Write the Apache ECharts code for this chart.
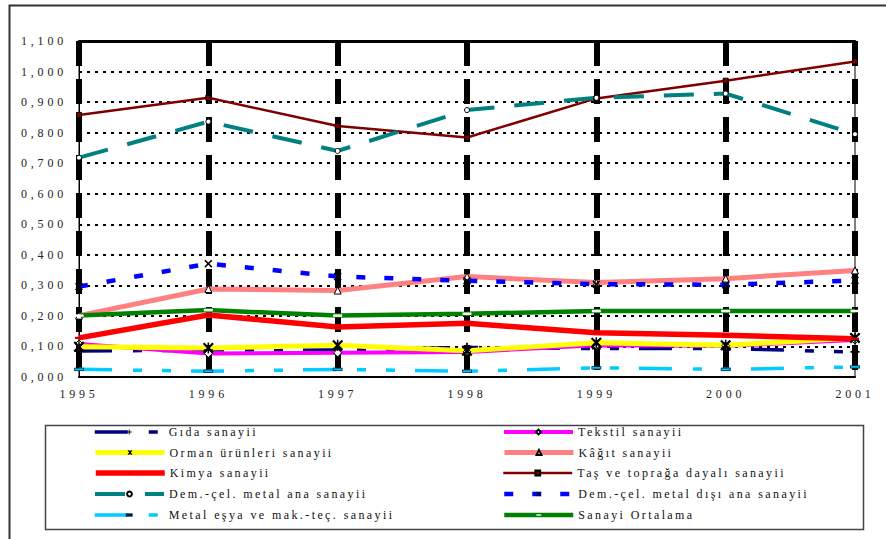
<!DOCTYPE html>
<html>
<head>
<meta charset="utf-8">
<script src="https://cdn.jsdelivr.net/npm/echarts@6/dist/echarts.min.js"></script>
<style>
html,body{margin:0;padding:0;background:#fff;}
#main{width:886px;height:539px;}
</style>
</head>
<body>
<div id="main"></div>
<script>
var years = ['1995','1996','1997','1998','1999','2000','2001'];
var yTicks = [0, 0.1, 0.2, 0.3, 0.4, 0.5, 0.6, 0.7, 0.8, 0.9, 1.0, 1.1];

var gida      = [0.085, 0.088, 0.088, 0.097, 0.093, 0.093, 0.082];
var tekstil   = [0.108, 0.077, 0.079, 0.082, 0.104, 0.102, 0.121];
var orman     = [0.099, 0.095, 0.104, 0.086, 0.112, 0.104, 0.128];
var kagit     = [0.201, 0.288, 0.283, 0.329, 0.309, 0.322, 0.349];
var kimya     = [0.128, 0.203, 0.164, 0.176, 0.145, 0.137, 0.125];
var tas       = [0.858, 0.914, 0.822, 0.784, 0.912, 0.970, 1.033];
var demAna    = [0.718, 0.836, 0.740, 0.874, 0.914, 0.928, 0.795];
var demDisi   = [0.296, 0.371, 0.329, 0.315, 0.304, 0.302, 0.316];
var metalEsya = [0.025, 0.019, 0.025, 0.019, 0.030, 0.025, 0.033];
var ortalama  = [0.201, 0.219, 0.201, 0.207, 0.216, 0.216, 0.216];

var names = ['Gıda sanayii','Tekstil sanayii','Orman ürünleri sanayii','Kâğıt sanayii','Kimya sanayii',
  'Taş ve toprağa dayalı sanayii','Dem.-çel. metal ana sanayii','Dem.-çel. metal dışı ana sanayii',
  'Metal eşya ve mak.-teç. sanayii','Sanayi Ortalama'];

var SYM_PLUS = 'path://M4,0H6V4H10V6H6V10H4V6H0V4H4Z';
var SYM_CROSS = 'path://M1.4,0L5,3.6L8.6,0L10,1.4L6.4,5L10,8.6L8.6,10L5,6.4L1.4,10L0,8.6L3.6,5L0,1.4Z';
var SYM_STAR = 'path://M1.4,0L5,3.6L8.6,0L10,1.4L6.4,5L10,8.6L8.6,10L5,6.4L1.4,10L0,8.6L3.6,5L0,1.4ZM4.3,0H5.7V10H4.3Z';
var SYM_DASH = 'path://M0,0M0,3.6H10V6.4H0ZM10,10';

var ddd = [33, 21, 9, 20, 9, 20];
var font = 'Liberation Serif';

var widths = [3.5, 4, 5, 5, 5.5, 2.5, 4, 4.5, 3.5, 4.5];

function mk(i, data, color, dash, symbol, size, fill, border, bw) {
  return {
    name: names[i], type: 'line', data: data, animation: false,
    symbol: symbol, symbolSize: size, showSymbol: true,
    lineStyle: { color: color, width: widths[i], type: dash || 'solid', cap: 'butt' },
    itemStyle: { color: fill, borderColor: border || fill, borderWidth: bw || 0 },
    emphasis: { disabled: true }
  };
}

var series = [
  mk(0, gida, '#000080', ddd, SYM_PLUS, 9, '#000'),
  mk(1, tekstil, '#FF00FF', null, 'diamond', 8, '#FFFFFF', '#000', 1),
  mk(2, orman, '#FFFF00', null, SYM_STAR, 11, '#000'),
  mk(3, kagit, '#FF8080', null, 'triangle', 7, '#FFFFFF', '#000', 1),
  mk(4, kimya, '#FF0000', null, SYM_DASH, 8, '#D00000'),
  mk(5, tas, '#800000', null, 'rect', 5, '#800000', '#000', 1),
  mk(6, demAna, '#008080', [30, 20], 'circle', 5, '#FFFFFF', '#000', 1),
  mk(7, demDisi, '#0000FF', [9, 19], SYM_CROSS, 8, '#000'),
  mk(8, metalEsya, '#00CCFF', ddd, SYM_DASH, 9, '#00CCFF', '#002040', 0.8),
  mk(9, ortalama, '#008000', null, SYM_DASH, 9, '#FFFFFF', '#FFFFFF', 0)
];

var leftCol = [0, 2, 4, 6, 8];
var rightCol = [1, 3, 5, 7, 9];
var rowY = [432, 452.5, 473, 494, 515];
var legends = [];
function addLegend(idx, left, top) {
  legends.push({
    data: [names[idx]], left: left, top: top - 6, orient: 'horizontal',
    itemWidth: 69, itemHeight: 6, itemGap: 0, selectedMode: false,
    lineStyle: { width: widths[idx] },
    textStyle: { fontFamily: font, fontSize: 12, color: '#111' },
    padding: 0
  });
}
leftCol.forEach(function (s, i) { addLegend(s, 93, rowY[i]); });
rightCol.forEach(function (s, i) { addLegend(s, 502, rowY[i]); });

var chart = echarts.init(document.getElementById('main'), null, { renderer: 'svg' });
chart.setOption({
  animation: false,
  backgroundColor: '#fff',
  grid: { left: 79, right: 31, top: 41, bottom: 162, show: true, borderColor: '#000', borderWidth: 1, containLabel: false },
  xAxis: [{
    type: 'category', data: years, boundaryGap: false,
    axisLine: { show: true, lineStyle: { color: '#000', width: 2 } },
    axisTick: { show: false },
    axisLabel: { margin: 11, fontFamily: font, fontSize: 12, color: '#222' },
    splitLine: { show: true, lineStyle: { color: '#000', width: 6, type: [25, 13] } }
  }, {
    type: 'category', data: years, boundaryGap: false, position: 'top',
    axisLine: { show: true, lineStyle: { color: '#000', width: 3 } },
    axisTick: { show: false }, axisLabel: { show: false }, splitLine: { show: false }
  }],
  yAxis: {
    type: 'value', min: 0, max: 1.1, interval: 0.1,
    axisLine: { show: true, lineStyle: { color: '#000', width: 1 } },
    axisTick: { show: false },
    axisLabel: {
      margin: 12, fontFamily: font, fontSize: 12, color: '#222',
      formatter: function (v) { return v.toFixed(3).replace('.', ','); }
    },
    splitLine: { show: true, lineStyle: { color: '#000', width: 2, type: [3, 5] } }
  },
  legend: legends,
  graphic: [
    { type: 'rect', left: 7, top: 3, shape: { x: 0, y: 0, width: 900, height: 560 }, style: { fill: 'none', stroke: '#333', lineWidth: 2 }, silent: true, z: -1 },
    { type: 'rect', left: 43, top: 423, shape: { x: 0, y: 0, width: 818, height: 104 }, style: { fill: 'none', stroke: '#444', lineWidth: 1.5 }, silent: true }
  ],
  series: series
});

function spaceText() {
  var texts = document.querySelectorAll('#main text');
  texts.forEach(function (t) {
    var s = t.textContent || '';
    t.style.letterSpacing = /^[\d,]+$/.test(s) ? '3.8px' : '2.4px';
  });
}
chart.getZr().refreshImmediately();
spaceText();
chart.on('finished', spaceText);
setTimeout(spaceText, 50);
</script>
</body>
</html>
